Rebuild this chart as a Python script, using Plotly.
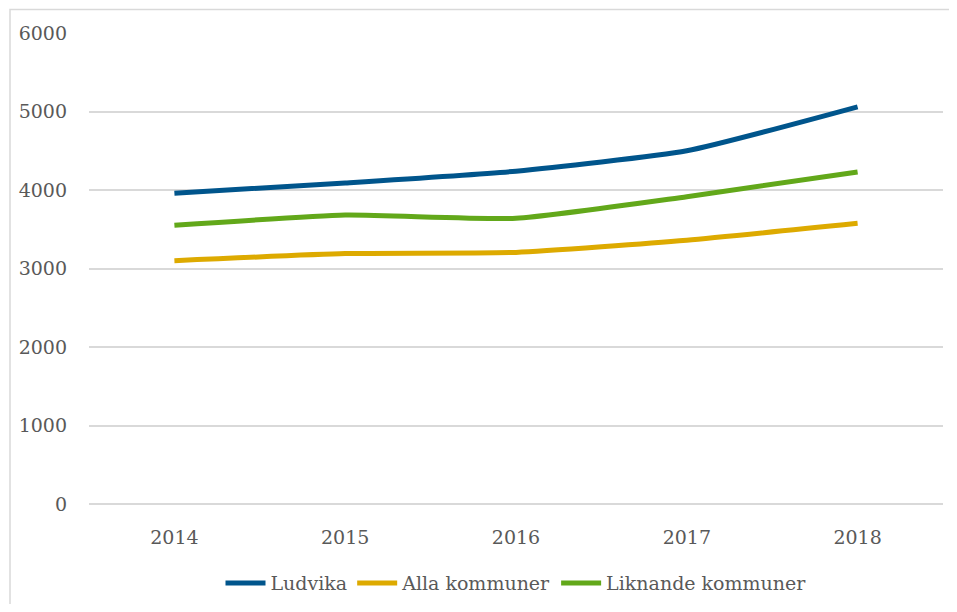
import plotly.graph_objects as go

# Data
years = ['2014', '2015', '2016', '2017', '2018']
ludvika = [3960, 4090, 4240, 4500, 5060]
alla_kommuner = [3100, 3190, 3205, 3360, 3575]
liknande_kommuner = [3550, 3680, 3640, 3915, 4230]

COLORS = {
    'ludvika':   '#00558C',
    'alla':      '#DDAA00',
    'liknande':  '#62A81A',
    'grid':      '#D9D9D9',
    'text':      '#595959',
    'border':    '#D9D9D9',
}

FONT = 'DejaVu Serif'

fig = go.Figure()

series = [
    ('Ludvika', ludvika, COLORS['ludvika']),
    ('Alla kommuner', alla_kommuner, COLORS['alla']),
    ('Liknande kommuner', liknande_kommuner, COLORS['liknande']),
]

for name, vals, color in series:
    fig.add_trace(go.Scatter(
        x=years, y=vals, name=name, mode='lines',
        line=dict(color=color, width=5, shape='spline', smoothing=0.5),
    ))

# ram (bara övre och vänstra kanten syns, resten är beskuren)
fig.add_shape(
    type='rect', xref='paper', yref='paper',
    x0=-0.0925, x1=1.04, y0=-0.27, y1=1.050,
    line=dict(color=COLORS['border'], width=1.5),
    fillcolor='rgba(0,0,0,0)', layer='below',
)

# sidan har 8 px marginal i body, därför mindre marginaler här
fig.update_layout(
    width=941, height=596,
    margin=dict(l=81, r=6, t=25, b=100, autoexpand=False),
    paper_bgcolor='white',
    plot_bgcolor='white',
    font=dict(family=FONT, size=19, color=COLORS['text']),
    showlegend=True,
    legend=dict(
        orientation='h', x=0.5, xanchor='center',
        yref='container', y=0.035, yanchor='middle',
        font=dict(family=FONT, size=19, color=COLORS['text']),
        itemwidth=40, traceorder='normal',
    ),
    xaxis=dict(
        type='category', range=[-0.5, 4.5], showgrid=False,
        showline=False, zeroline=False, ticks='', ticklabelstandoff=20,
    ),
    yaxis=dict(
        range=[0, 6000], dtick=1000, showgrid=True,
        gridcolor=COLORS['grid'], gridwidth=1.5,
        zeroline=True, zerolinecolor=COLORS['grid'], zerolinewidth=1.5,
        showline=False, ticks='', ticklabelstandoff=21,
    ),
)

fig.write_html('out.html')
